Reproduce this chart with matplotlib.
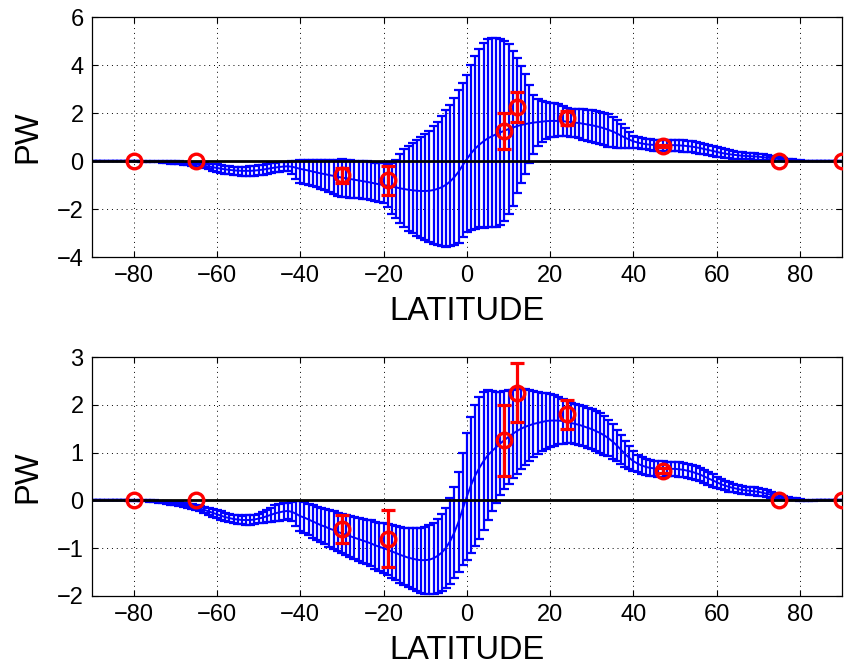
import numpy as np
import matplotlib
matplotlib.use("Agg")
import matplotlib.pyplot as plt

plt.rcParams['font.family'] = ['Liberation Sans', 'DejaVu Sans']

# latitude grid of the model curve (one value per degree, -90..90)
lat = np.arange(-90, 91, 1)

# model mean transport (PW)
mean_pw = [
    0, 0, 0, 0, 0, 0, 0, 0, 0, 0, 0, 0,
    -0.01, -0.01, -0.02, -0.02, -0.03, -0.04, -0.05, -0.06, -0.07,
    -0.08, -0.10, -0.11, -0.13, -0.15, -0.17, -0.20, -0.23, -0.26, -0.29,
    -0.32, -0.35, -0.37, -0.39, -0.40, -0.41, -0.41, -0.41, -0.40, -0.38,
    -0.36, -0.33, -0.30, -0.27, -0.25, -0.23, -0.22, -0.24, -0.28, -0.33,
    -0.36, -0.40, -0.44, -0.48, -0.52, -0.55, -0.59, -0.62, -0.66, -0.69,
    -0.72, -0.75, -0.78, -0.81, -0.84, -0.87, -0.90, -0.94, -0.97, -1.00,
    -1.03, -1.07, -1.10, -1.14, -1.17, -1.20, -1.22, -1.24, -1.25, -1.25,
    -1.24, -1.21, -1.16, -1.09, -0.99, -0.85, -0.67, -0.45, -0.18, 0.08,
    0.32, 0.52, 0.68, 0.82, 0.94, 1.03, 1.11, 1.19, 1.26, 1.33,
    1.39, 1.45, 1.50, 1.54, 1.57, 1.60, 1.62, 1.64, 1.66, 1.67,
    1.67, 1.67, 1.66, 1.64, 1.62, 1.60, 1.58, 1.55, 1.52, 1.49,
    1.45, 1.41, 1.36, 1.30, 1.23, 1.15, 1.06, 0.97, 0.89, 0.82,
    0.77, 0.73, 0.70, 0.68, 0.67, 0.66, 0.66, 0.66, 0.66, 0.66,
    0.65, 0.64, 0.62, 0.60, 0.57, 0.54, 0.50, 0.46, 0.42, 0.38,
    0.34, 0.31, 0.28, 0.26, 0.24, 0.22, 0.21, 0.20, 0.19, 0.18,
    0.16, 0.14, 0.12, 0.10, 0.08, 0.06, 0.04, 0.03, 0.02, 0.01,
    0, 0, 0, 0, 0, 0, 0, 0, 0, 0,
]

# top panel: upper and lower spread
top_err_hi = [
    0, 0, 0, 0, 0, 0, 0, 0, 0.01, 0.01, 0.01, 0.01,
    0.02, 0.02, 0.02, 0.03, 0.03, 0.04, 0.04, 0.05, 0.06,
    0.06, 0.07, 0.07, 0.08, 0.08, 0.09, 0.11, 0.12, 0.14, 0.16,
    0.16, 0.16, 0.16, 0.16, 0.16, 0.17, 0.18, 0.19, 0.20, 0.20,
    0.20, 0.20, 0.20, 0.20, 0.20, 0.20, 0.19, 0.22, 0.28, 0.36,
    0.40, 0.44, 0.48, 0.52, 0.56, 0.60, 0.64, 0.68, 0.72, 0.76,
    0.78, 0.79, 0.80, 0.82, 0.84, 0.85, 0.86, 0.87, 0.88, 0.90,
    0.92, 0.98, 1.15, 1.45, 1.65, 1.82, 1.98, 2.12, 2.25, 2.37,
    2.50, 2.65, 2.80, 2.95, 3.10, 3.20, 3.30, 3.40, 3.45, 3.50,
    3.70, 3.85, 4.00, 4.10, 4.15, 4.10, 4.00, 3.90, 3.75, 3.55,
    3.20, 2.85, 2.45, 2.10, 1.60, 1.15, 0.95, 0.85, 0.80, 0.76,
    0.74, 0.70, 0.64, 0.58, 0.55, 0.56, 0.58, 0.60, 0.62, 0.63,
    0.64, 0.65, 0.66, 0.66, 0.62, 0.56, 0.48, 0.40, 0.32, 0.24,
    0.22, 0.22, 0.22, 0.22, 0.22, 0.22, 0.22, 0.22, 0.22, 0.22,
    0.22, 0.22, 0.22, 0.22, 0.22, 0.21, 0.21, 0.21, 0.21, 0.20,
    0.19, 0.18, 0.17, 0.16, 0.15, 0.14, 0.14, 0.13, 0.13, 0.13,
    0.12, 0.11, 0.10, 0.09, 0.08, 0.07, 0.06, 0.05, 0.04, 0.03,
    0.02, 0.02, 0.01, 0.01, 0.01, 0, 0, 0, 0, 0,
]
top_err_lo = [
    0, 0, 0, 0, 0, 0, 0, 0, 0.01, 0.01, 0.01, 0.01,
    0.02, 0.02, 0.02, 0.03, 0.03, 0.04, 0.04, 0.05, 0.06,
    0.06, 0.07, 0.07, 0.08, 0.08, 0.09, 0.11, 0.12, 0.14, 0.16,
    0.17, 0.18, 0.19, 0.20, 0.20, 0.20, 0.21, 0.21, 0.21, 0.21,
    0.21, 0.20, 0.20, 0.20, 0.20, 0.20, 0.19, 0.30, 0.45, 0.57,
    0.58, 0.59, 0.60, 0.61, 0.63, 0.66, 0.70, 0.74, 0.78, 0.80,
    0.80, 0.79, 0.77, 0.75, 0.73, 0.72, 0.72, 0.73, 0.74, 0.76,
    0.90, 1.13, 1.28, 1.43, 1.58, 1.70, 1.80, 1.90, 1.95, 2.05,
    2.15, 2.25, 2.35, 2.45, 2.58, 2.70, 2.82, 2.95, 3.00, 3.05,
    3.20, 3.35, 3.45, 3.60, 3.70, 3.80, 3.85, 3.85, 3.75, 3.55,
    3.25, 2.80, 2.40, 2.10, 1.65, 1.30, 1.00, 0.85, 0.75, 0.68,
    0.65, 0.62, 0.60, 0.60, 0.60, 0.62, 0.64, 0.66, 0.68, 0.70,
    0.70, 0.70, 0.70, 0.70, 0.66, 0.60, 0.52, 0.44, 0.36, 0.28,
    0.24, 0.22, 0.22, 0.22, 0.24, 0.25, 0.26, 0.26, 0.26, 0.26,
    0.25, 0.25, 0.25, 0.24, 0.24, 0.23, 0.22, 0.22, 0.21, 0.20,
    0.19, 0.18, 0.17, 0.16, 0.15, 0.14, 0.14, 0.13, 0.13, 0.13,
    0.12, 0.11, 0.10, 0.09, 0.08, 0.07, 0.06, 0.05, 0.04, 0.03,
    0.02, 0.02, 0.01, 0.01, 0.01, 0, 0, 0, 0, 0,
]

# bottom panel: symmetric spread
bot_err = [
    0, 0, 0, 0, 0, 0, 0, 0, 0, 0.01, 0.01, 0.01,
    0.01, 0.01, 0.02, 0.02, 0.02, 0.02, 0.03, 0.03, 0.035,
    0.04, 0.04, 0.04, 0.05, 0.05, 0.05, 0.06, 0.07, 0.08, 0.085,
    0.09, 0.09, 0.09, 0.09, 0.09, 0.09, 0.10, 0.10, 0.10, 0.10,
    0.11, 0.13, 0.15, 0.17, 0.18, 0.18, 0.17, 0.20, 0.26, 0.31,
    0.32, 0.33, 0.34, 0.35, 0.36, 0.37, 0.38, 0.39, 0.40, 0.41,
    0.42, 0.43, 0.44, 0.45, 0.46, 0.47, 0.48, 0.49, 0.50, 0.52,
    0.53, 0.55, 0.56, 0.58, 0.60, 0.62, 0.64, 0.66, 0.68, 0.70,
    0.72, 0.74, 0.77, 0.80, 0.84, 0.89, 0.95, 1.05, 1.18, 1.32,
    1.42, 1.48, 1.48, 1.44, 1.36, 1.26, 1.16, 1.08, 1.03, 0.98,
    0.93, 0.89, 0.84, 0.79, 0.74, 0.69, 0.65, 0.61, 0.58, 0.55,
    0.53, 0.50, 0.47, 0.44, 0.42, 0.42, 0.42, 0.42, 0.42, 0.42,
    0.42, 0.41, 0.40, 0.38, 0.36, 0.33, 0.30, 0.27, 0.24, 0.21,
    0.18, 0.17, 0.16, 0.16, 0.16, 0.16, 0.16, 0.15, 0.15, 0.15,
    0.15, 0.15, 0.15, 0.15, 0.15, 0.14, 0.14, 0.13, 0.13, 0.12,
    0.11, 0.10, 0.10, 0.09, 0.09, 0.09, 0.08, 0.08, 0.08, 0.08,
    0.07, 0.07, 0.06, 0.06, 0.05, 0.04, 0.03, 0.03, 0.02, 0.02,
    0.01, 0.01, 0.01, 0, 0, 0, 0, 0, 0, 0,
]

# observational estimates (red)
obs_lat = [-80, -65, -30, -19, 9, 12, 24, 47, 75, 90]
obs_val = [0.0, 0.0, -0.6, -0.8, 1.26, 2.25, 1.8, 0.62, 0.0, 0.0]
obs_err = [0.0, 0.0, 0.3, 0.6, 0.74, 0.62, 0.3, 0.05, 0.0, 0.0]

xticks = [-80, -60, -40, -20, 0, 20, 40, 60, 80]
yticks_top = [-4, -2, 0, 2, 4, 6]
yticks_bot = [-2, -1, 0, 1, 2, 3]

W, H = 849, 666
fig = plt.figure(figsize=(W / 100, H / 100), dpi=100)
ax1 = fig.add_axes([92 / W, (H - 257) / H, 749.7 / W, 240 / H])
ax2 = fig.add_axes([92 / W, (H - 596) / H, 749.7 / W, 239 / H])

mean_arr = np.array(mean_pw)
olat = np.array(obs_lat)
oval = np.array(obs_val)
oerr = np.array(obs_err)
has_err = oerr > 0


def draw(ax, yerr, ylim, yticks):
    ax.errorbar(lat, mean_arr, yerr=yerr, color=(0, 0, 1), lw=1.4,
                elinewidth=1.6, capsize=3.7, capthick=1.6, zorder=2)
    ax.axhline(0, color='k', lw=2.0, zorder=3)
    ax.errorbar(olat[has_err], oval[has_err], yerr=oerr[has_err], fmt='none',
                ecolor=(1, 0, 0), elinewidth=2.3, capsize=5, capthick=2.3,
                zorder=4)
    ax.plot(olat, oval, 'o', mfc='none', mec=(1, 0, 0), ms=10.5, mew=2.4,
            zorder=5)
    ax.set_xlim(-90, 90)
    ax.set_ylim(*ylim)
    ax.set_xticks(xticks)
    ax.set_yticks(yticks)
    ax.set_axisbelow(True)
    ax.grid(True, color='k', linestyle=(0, (1, 4)), lw=0.7)
    ax.tick_params(direction='in', length=4.3, width=0.8, top=True,
                   right=True, labelsize=17, pad=6)
    for s in ax.spines.values():
        s.set_linewidth(0.9)
    ax.set_xlabel('LATITUDE', fontsize=23.5, labelpad=6)
    ax.set_ylabel('PW', fontsize=23.5, labelpad=10)


draw(ax1, [top_err_lo, top_err_hi], (-4, 6), yticks_top)
draw(ax2, bot_err, (-2, 3), yticks_bot)

fig.savefig('out.png', dpi=100)
